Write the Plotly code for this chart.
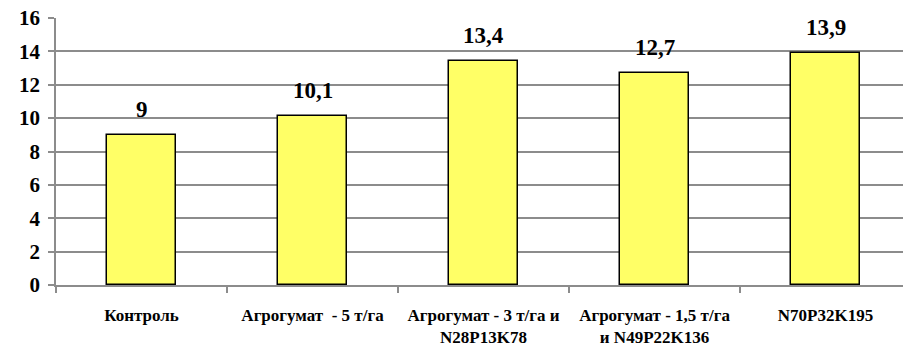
import plotly.graph_objects as go

categories = ["Контроль", "Агрогумат  - 5 т/га", "Агрогумат - 3 т/га и<br>N28P13K78",
              "Агрогумат - 1,5 т/га<br>и N49P22K136", "N70P32K195"]
values = [9, 10.1, 13.4, 12.7, 13.9]
value_labels = ["9", "10,1", "13,4", "12,7", "13,9"]
y_ticks = [0, 2, 4, 6, 8, 10, 12, 14, 16]

FONT = "Liberation Serif, Times New Roman, serif"

fig = go.Figure()
fig.add_trace(go.Bar(
    x=categories, y=values, width=0.40,
    marker=dict(color="#FFFF66", line=dict(color="black", width=1.5)),
    hoverinfo="skip",
))
for c, v, t in zip(categories, values, value_labels):
    fig.add_annotation(x=c, y=v, text=t, showarrow=False,
                       yanchor="bottom", yshift=11,
                       font=dict(family=FONT, size=23, color="black", weight="bold"))

fig.update_layout(
    width=903, height=347,
    margin=dict(l=56, r=0, t=18, b=62),
    paper_bgcolor="white", plot_bgcolor="white",
    showlegend=False, bargap=0,
    font=dict(family=FONT, color="black"),
)
fig.update_xaxes(
    type="category", range=[-0.5, 4.453],
    showline=True, linecolor="#8c8c8c", linewidth=1.5,
    ticks="outside", tickson="boundaries", ticklen=6, tickcolor="#8c8c8c", tickwidth=1.5,
    tickfont=dict(family=FONT, size=17, color="black", weight="bold"),
    ticklabelstandoff=14, showgrid=False,
)
fig.update_yaxes(
    range=[0, 16], tickvals=y_ticks,
    showline=True, linecolor="#8c8c8c", linewidth=1.5,
    showgrid=True, gridcolor="#8c8c8c", gridwidth=1.5,
    ticks="outside", ticklen=6, tickcolor="#8c8c8c", tickwidth=1.5,
    tickfont=dict(family=FONT, size=21, color="black", weight="bold"),
    ticklabelstandoff=4, zeroline=False,
)
fig.write_html("out.html")
